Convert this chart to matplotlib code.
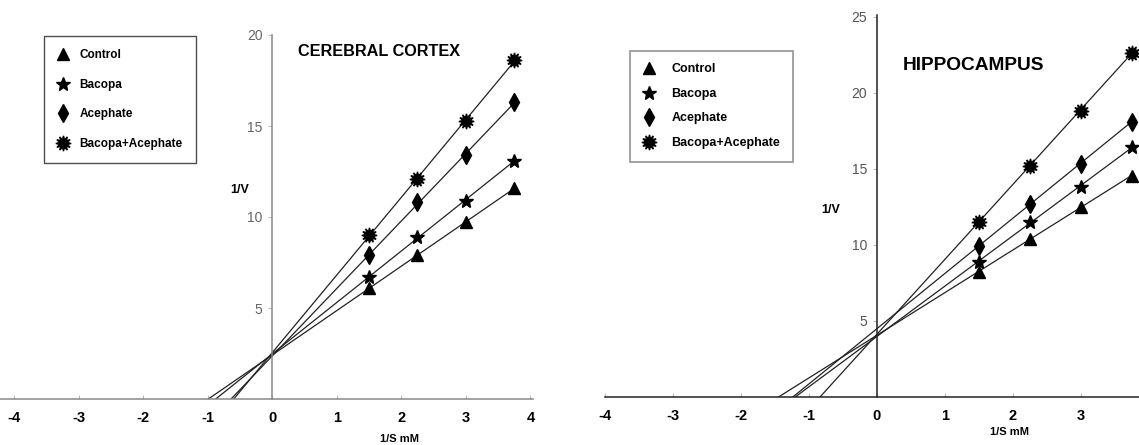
import matplotlib.pyplot as plt
import numpy as np
from matplotlib import font_manager

# fonts: the reference uses a narrow Arial-like face
names = {f.name for f in font_manager.fontManager.ttflist}
NARROW = 'Liberation Sans Narrow' in names
FAM = ['Liberation Sans Narrow', 'Liberation Sans'] if NARROW else ['Liberation Sans']
plt.rcParams['font.family'] = FAM
plt.rcParams['axes.unicode_minus'] = False

# data (1/S in mM^-1, 1/V)
inv_s = [1.5, 2.25, 3.0, 3.75]
series = ['Control', 'Bacopa', 'Acephate', 'Bacopa+Acephate']

cortex_control = [6.1, 7.9, 9.7, 11.6]
cortex_bacopa = [6.7, 8.9, 10.9, 13.1]
cortex_acephate = [7.9, 10.8, 13.4, 16.3]
cortex_both = [9.0, 12.1, 15.3, 18.6]

hippo_control = [8.2, 10.4, 12.5, 14.5]
hippo_bacopa = [8.9, 11.5, 13.8, 16.4]
hippo_acephate = [9.9, 12.7, 15.3, 18.1]
hippo_both = [11.5, 15.2, 18.8, 22.6]

markers = ['^', '*', 'd', (12, 1, 0)]
msizes = [9, 10, 9, 11]

W, H = 1139, 445
fig = plt.figure(figsize=(W / 100, H / 100), dpi=100)


def px_axes(x0, x1, y_top, y_bot):
    return fig.add_axes([x0 / W, 1 - y_bot / H, (x1 - x0) / W, (y_bot - y_top) / H])


def panel(ax, data, xlim, ylim, xticks, yticks, axcol, ytcol):
    ax.set_xlim(*xlim)
    ax.set_ylim(*ylim)
    for sp in ['top', 'right']:
        ax.spines[sp].set_visible(False)
    ax.spines['left'].set_position(('data', 0))
    ax.spines['bottom'].set_position(('data', 0))
    for sp in ['left', 'bottom']:
        ax.spines[sp].set_color(axcol)
        ax.spines[sp].set_linewidth(1.1)
    ax.set_xticks(xticks)
    ax.set_yticks(yticks)
    ax.tick_params(axis='x', direction='in', length=3, color='#bbbbbb', pad=9,
                   labelsize=11 if NARROW else 10.5)
    ax.tick_params(axis='y', direction='out', length=3, color='#bbbbbb', pad=4,
                   labelsize=11 if NARROW else 10, labelcolor=ytcol)
    for t in ax.get_xticklabels():
        t.set_fontweight('bold')
    ax.patch.set_alpha(0)
    handles = []
    x = np.array(inv_s)
    for name, y, m, ms in zip(series, data, markers, msizes):
        slope, icpt = np.polyfit(x, y, 1)
        x0 = -icpt / slope
        ax.plot([x0, x[-1]], [0, slope * x[-1] + icpt], color='#222222', lw=0.9, zorder=2)
        h, = ax.plot(x, y, linestyle='none', marker=m, ms=ms, color='black',
                     markeredgecolor='black', label=name, zorder=3, clip_on=False)
        handles.append(h)
    return handles


ax1 = px_axes(0, 533, 35, 399)
h1 = panel(ax1, [cortex_control, cortex_bacopa, cortex_acephate, cortex_both],
           (-4.22, 4.04), (0, 20), range(-4, 5), [5, 10, 15, 20], '#888888', '#666666')

ax2 = px_axes(605, 1139, 15, 397)
h2 = panel(ax2, [hippo_control, hippo_bacopa, hippo_acephate, hippo_both],
           (-3.99, 3.86), (0, 25.1), range(-4, 4), [5, 10, 15, 20, 25], '#222222', '#555555')

leg_kw = dict(loc='upper left', frameon=True, fancybox=False, borderaxespad=0, handlelength=1.0)
lg1 = fig.legend(handles=h1, bbox_to_anchor=(44 / W, 1 - 36 / H), handletextpad=0.9,
                 labelspacing=1.5, borderpad=1.1,
                 prop={'size': 8.5, 'weight': 'bold', 'family': FAM}, **leg_kw)
lg1.get_frame().set_edgecolor('#222222')
lg1.get_frame().set_linewidth(1.0)
lg2 = fig.legend(handles=h2, bbox_to_anchor=(630 / W, 1 - 51 / H), handletextpad=1.3,
                 labelspacing=1.0, borderpad=1.0,
                 prop={'size': 9, 'weight': 'bold', 'family': FAM}, **leg_kw)
lg2.get_frame().set_edgecolor('#777777')
lg2.get_frame().set_linewidth(1.2)

fig.text(298 / W, 1 - 52 / H, 'CEREBRAL CORTEX', fontsize=11.7, fontweight='bold', va='center', ha='left')
fig.text(903 / W, 1 - 65 / H, 'HIPPOCAMPUS', fontsize=13.8, fontweight='bold', va='center', ha='left')

lfs = 10 if NARROW else 9
fig.text(240 / W, 1 - 190 / H, '1/V', fontsize=lfs, fontweight='bold', va='center', ha='center')
fig.text(831 / W, 1 - 210 / H, '1/V', fontsize=lfs, fontweight='bold', va='center', ha='center')
xfs = 9 if NARROW else 8
fig.text(400 / W, 1 - 439 / H, '1/S mM', fontsize=xfs, fontweight='bold', va='center', ha='center')
fig.text(1010 / W, 1 - 432 / H, '1/S mM', fontsize=xfs, fontweight='bold', va='center', ha='center')

fig.savefig('out.png', dpi=100, facecolor='white')
